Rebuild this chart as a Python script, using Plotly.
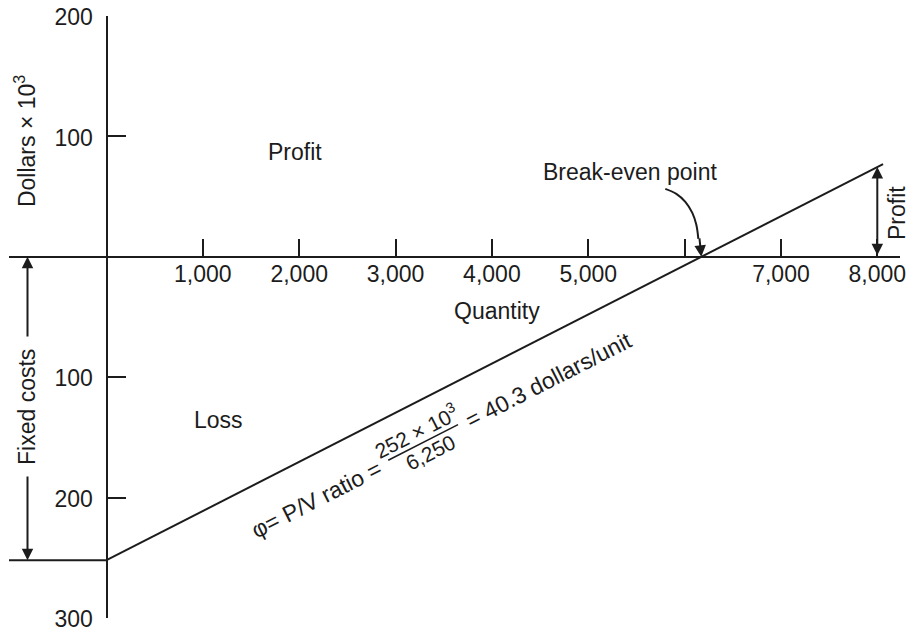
import math
import plotly.graph_objects as go

# ---------------- data ----------------
quantity_ticks = [1000, 2000, 3000, 4000, 5000, 6000, 7000, 8000]
quantity_labels = ["1,000", "2,000", "3,000", "4,000", "5,000", "", "7,000", "8,000"]
dollar_ticks = [200, 100, -100, -200, -300]
dollar_labels = ["200", "100", "100", "200", "300"]
fixed_costs = 252            # thousand dollars (shown below the axis)
pv_quantity = [0, 8060]      # P/V line, quantity
pv_dollars = [-252, 77]      # P/V line, dollars x 10^3
profit_marker_qty = 8000

# ---------------- layout geometry (page pixels) ----------------
FW, FH = 909, 629            # figure size
PL, PR, PT, PB = 9, 900, 16, 618    # plot area edges in pixels
X0PX = 106.5                 # pixel of quantity 0
PXQ = 0.09635                # pixels per unit quantity
YMIN, YMAX = -300, 200
PXY = (PB - PT) / (YMAX - YMIN)

xmin = (PL - X0PX) / PXQ
xmax = (PR - X0PX) / PXQ


def px2q(p):
    return (p - X0PX) / PXQ


def py2d(p):
    return YMAX - (p - PT) / PXY


slope = (pv_dollars[1] - pv_dollars[0]) / (pv_quantity[1] - pv_quantity[0])


def line_y(q):
    return pv_dollars[0] + slope * (q - pv_quantity[0])


break_even_q = pv_quantity[0] + (0 - pv_dollars[0]) / slope
theta = math.atan(slope * PXY / PXQ)       # angle of the line on screen
ct, st = math.cos(theta), math.sin(theta)

INK = "#1c1c1c"
FONT = "Liberation Sans, Arial, Helvetica, sans-serif"
FS = 23

fig = go.Figure()

# P/V line
fig.add_trace(go.Scatter(x=pv_quantity, y=pv_dollars, mode="lines",
                         line=dict(color=INK, width=2), hoverinfo="skip", cliponaxis=False))
# fixed cost level line to the left of the axis
fig.add_trace(go.Scatter(x=[xmin, 0], y=[-fixed_costs, -fixed_costs], mode="lines",
                         line=dict(color=INK, width=2), hoverinfo="skip"))

# curved arrow body to break-even point (pixel offsets from the point)
curve_off = [(-36, -68), (-25, -63), (-16, -55), (-9, -44), (-5, -32), (-3, -18)]
cx = [break_even_q + dx / PXQ for dx, dy in curve_off]
cy = [0 - dy / PXY for dx, dy in curve_off]
fig.add_trace(go.Scatter(x=cx, y=cy, mode="lines",
                         line=dict(color=INK, width=2, shape="spline"), hoverinfo="skip"))

ann = []


def text(xp, yp, t, angle=0, size=FS):
    ann.append(dict(x=px2q(xp), y=py2d(yp), xref="x", yref="y", text=t,
                    showarrow=False, textangle=angle,
                    font=dict(family=FONT, size=size, color=INK),
                    xanchor="center", yanchor="middle"))


text(295, 152, "Profit")
text(218, 420, "Loss")
text(630, 172, "Break-even point")
text(497, 311, "Quantity")
text(25, 141, "Dollars × 10<sup>3</sup>", angle=-90)
text(27, 407, "Fixed costs", angle=-90)
text(897, 213, "Profit", angle=-90)


def along(q, d, t, size=FS):
    ann.append(dict(x=q, y=line_y(q), xref="x", yref="y", text=t, showarrow=False,
                    textangle=-math.degrees(theta), xshift=d * st, yshift=-d * ct,
                    font=dict(family=FONT, size=size, color=INK),
                    xanchor="center", yanchor="middle"))


along(1990, 41, "φ= P/V ratio =")
along(3090, 26, "252 × 10<sup>3</sup>", size=21)
along(3120, 51, "6,250", size=21)
along(4400, 40, "= 40.3 dollars/unit")

# fraction bar
bar_len = 80
bar_q = 3110 - (bar_len / 2) * ct / PXQ
ann.append(dict(x=bar_q, y=line_y(bar_q), xref="x", yref="y", text="", showarrow=True,
                arrowhead=0, arrowwidth=1.5, arrowcolor=INK,
                ax=bar_len * ct, ay=-bar_len * st, axref="pixel", ayref="pixel",
                xshift=39 * st, yshift=-39 * ct))

# break-even arrow head
ann.append(dict(x=break_even_q, y=0, xref="x", yref="y", text="", showarrow=True,
                arrowhead=2, arrowsize=1.15, arrowwidth=2, arrowcolor=INK,
                ax=-2, ay=-20, axref="pixel", ayref="pixel"))

# fixed cost double arrow (two halves around the label)
fcx = px2q(27.5)
ann.append(dict(x=fcx, y=0, xref="x", yref="y", ax=fcx, ay=py2d(338),
                axref="x", ayref="y", text="", showarrow=True, arrowhead=2,
                arrowsize=1.15, arrowwidth=2, arrowcolor=INK))
ann.append(dict(x=fcx, y=-fixed_costs, xref="x", yref="y", ax=fcx, ay=py2d(475),
                axref="x", ayref="y", text="", showarrow=True, arrowhead=2,
                arrowsize=1.15, arrowwidth=2, arrowcolor=INK))

# profit double arrow at 8,000
ann.append(dict(x=profit_marker_qty, y=line_y(profit_marker_qty), xref="x", yref="y",
                ax=profit_marker_qty, ay=0, axref="x", ayref="y", text="",
                showarrow=True, arrowhead=2, startarrowhead=2, arrowside="end+start",
                arrowsize=1.15, startarrowsize=1.15, arrowwidth=2, arrowcolor=INK))

fig.update_layout(
    width=FW, height=FH,
    margin=dict(l=PL, r=FW - PR, t=PT, b=FH - PB, pad=0, autoexpand=False),
    paper_bgcolor="white", plot_bgcolor="white",
    showlegend=False,
    annotations=ann,
    font=dict(family=FONT, size=FS, color=INK),
    xaxis=dict(range=[xmin, xmax], anchor="free", position=(0 - YMIN) / (YMAX - YMIN),
               showline=True, linecolor=INK, linewidth=2,
               ticks="inside", ticklen=17, tickwidth=2, tickcolor=INK,
               tickvals=quantity_ticks, ticktext=quantity_labels,
               showgrid=False, zeroline=False, ticklabelstandoff=-3,
               ticklabeloverflow="allow",
               tickfont=dict(family=FONT, size=FS, color=INK)),
    yaxis=dict(range=[YMIN - 0.05, YMAX + 0.05], anchor="free",
               position=(0 - xmin) / (xmax - xmin),
               showline=True, linecolor=INK, linewidth=2,
               ticks="inside", ticklen=18, tickwidth=2, tickcolor=INK,
               tickvals=dollar_ticks, ticktext=dollar_labels,
               showgrid=False, zeroline=False, ticklabelshift=1, ticklabelstandoff=8,
               ticklabeloverflow="allow",
               tickfont=dict(family=FONT, size=FS, color=INK)),
)

fig.write_html("out.html",
               config={"displayModeBar": False, "staticPlot": True},
               post_script="document.body.style.margin='0px';"
                           "document.body.style.overflow='hidden';")
